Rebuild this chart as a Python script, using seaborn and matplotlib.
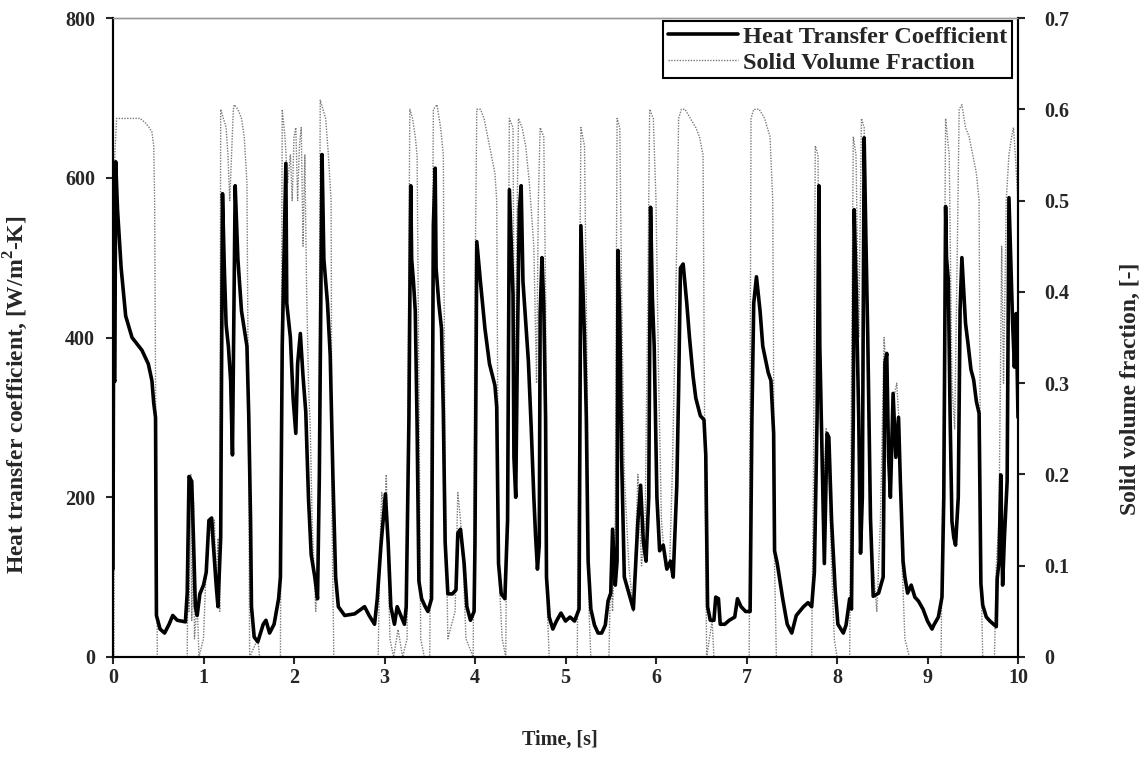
import numpy as np
import pandas as pd
import matplotlib
matplotlib.use("Agg")
import matplotlib.pyplot as plt
import seaborn as sns

# heat transfer coefficient: time [s] and value [W/m2-K]
htc_time = [0.00, 0.005, 0.02, 0.03, 0.05, 0.09, 0.14, 0.21, 0.32, 0.39, 0.43, 0.45, 0.47, 0.48,
            0.52, 0.57, 0.62, 0.66, 0.71, 0.80, 0.82, 0.84, 0.87, 0.89, 0.91, 0.93, 0.96, 1.00,
            1.03, 1.06, 1.09, 1.11, 1.14, 1.16, 1.19, 1.21, 1.23, 1.25, 1.275, 1.30, 1.32, 1.35,
            1.38, 1.42, 1.48, 1.50, 1.52, 1.53, 1.56, 1.60, 1.66, 1.69, 1.73, 1.78, 1.83, 1.85,
            1.87, 1.91, 1.92, 1.96, 1.99, 2.02, 2.04, 2.07, 2.10, 2.13, 2.16, 2.19, 2.23, 2.26,
            2.28, 2.31, 2.33, 2.37, 2.40, 2.43, 2.46, 2.49, 2.56, 2.67, 2.78, 2.83, 2.89, 2.92,
            2.96, 3.01, 3.04, 3.07, 3.11, 3.14, 3.18, 3.22, 3.24, 3.27, 3.29, 3.30, 3.32, 3.34,
            3.36, 3.38, 3.41, 3.45, 3.48, 3.52, 3.54, 3.56, 3.57, 3.60, 3.63, 3.65, 3.67, 3.70,
            3.75, 3.79, 3.81, 3.84, 3.88, 3.91, 3.95, 3.99, 4.00, 4.02, 4.06, 4.11, 4.16, 4.22,
            4.24, 4.26, 4.29, 4.33, 4.36, 4.38, 4.40, 4.42, 4.43, 4.45, 4.47, 4.49, 4.51, 4.53,
            4.56, 4.59, 4.62, 4.65, 4.67, 4.69, 4.71, 4.72, 4.74, 4.76, 4.78, 4.79, 4.82, 4.86,
            4.90, 4.95, 5.00, 5.05, 5.10, 5.15, 5.17, 5.19, 5.21, 5.23, 5.25, 5.28, 5.32, 5.36,
            5.40, 5.44, 5.47, 5.50, 5.52, 5.55, 5.57, 5.58, 5.60, 5.62, 5.65, 5.70, 5.75, 5.80,
            5.83, 5.86, 5.89, 5.92, 5.94, 5.96, 5.98, 6.01, 6.04, 6.08, 6.12, 6.16, 6.19, 6.23,
            6.25, 6.27, 6.30, 6.34, 6.37, 6.41, 6.44, 6.49, 6.53, 6.55, 6.57, 6.60, 6.64, 6.66,
            6.69, 6.71, 6.76, 6.81, 6.87, 6.90, 6.94, 6.99, 7.04, 7.06, 7.08, 7.11, 7.15, 7.18,
            7.24, 7.27, 7.30, 7.31, 7.34, 7.40, 7.45, 7.50, 7.55, 7.63, 7.68, 7.72, 7.75, 7.78,
            7.80, 7.81, 7.83, 7.86, 7.89, 7.91, 7.94, 7.98, 8.01, 8.07, 8.10, 8.14, 8.16, 8.18,
            8.19, 8.21, 8.24, 8.26, 8.28, 8.30, 8.32, 8.34, 8.37, 8.40, 8.46, 8.51, 8.53, 8.55,
            8.57, 8.59, 8.62, 8.65, 8.68, 8.70, 8.73, 8.75, 8.78, 8.82, 8.86, 8.90, 8.95, 9.00,
            9.05, 9.07, 9.12, 9.16, 9.18, 9.20, 9.21, 9.23, 9.25, 9.27, 9.29, 9.31, 9.34, 9.36,
            9.38, 9.42, 9.45, 9.48, 9.51, 9.54, 9.57, 9.59, 9.61, 9.65, 9.69, 9.74, 9.76, 9.77,
            9.79, 9.81, 9.83, 9.85, 9.88, 9.90, 9.92, 9.94, 9.96, 9.98, 10.0]
htc_value = [110, 350, 345, 620, 560, 487, 427, 400, 384, 367, 346, 318, 300, 52,
             35, 30, 41, 52, 46, 44, 80, 226, 220, 144, 63, 52, 79, 90,
             106, 171, 174, 139, 90, 63, 150, 580, 487, 416, 389, 346, 253, 590,
             498, 433, 389, 302, 171, 63, 25, 19, 41, 46, 30, 41, 73, 100,
             389, 618, 443, 400, 324, 280, 367, 405, 351, 307, 199, 128, 100, 73,
             226, 629, 498, 443, 378, 226, 100, 63, 52, 54, 63, 52, 41, 73,
             139, 204, 144, 63, 41, 63, 52, 41, 63, 300, 590, 498, 470, 433,
             291, 95, 73, 63, 57, 73, 541, 612, 487, 443, 411, 307, 144, 79,
             79, 84, 155, 160, 117, 63, 46, 57, 144, 520, 470, 411, 367, 340,
             313, 117, 79, 73, 171, 585, 520, 454, 250, 200, 400, 560, 590, 470,
             420, 370, 290, 200, 150, 110, 140, 430, 500, 440, 300, 100, 50, 35,
             45, 55, 45, 50, 45, 60, 540, 470, 400, 300, 120, 60, 40, 30,
             30, 40, 70, 80, 160, 90, 120, 509, 420, 250, 100, 80, 60, 170,
             215, 144, 120, 200, 563, 450, 389, 200, 133, 140, 110, 120, 100, 215,
             335, 487, 492, 443, 400, 351, 324, 302, 297, 253, 63, 46, 46, 75,
             73, 41, 41, 46, 50, 73, 63, 57, 57, 300, 443, 476, 433, 389,
             356, 346, 280, 133, 117, 73, 41, 30, 52, 63, 68, 63, 106, 300,
             590, 389, 280, 117, 280, 275, 171, 84, 41, 30, 40, 73, 60, 300,
             560, 470, 300, 130, 200, 650, 520, 400, 174, 76, 80, 100, 369, 380,
             250, 200, 330, 250, 300, 220, 120, 100, 80, 90, 75, 70, 60, 45,
             35, 40, 50, 75, 200, 564, 500, 472, 300, 170, 150, 140, 200, 434,
             500, 418, 390, 360, 347, 320, 305, 92, 65, 50, 45, 40, 38, 98,
             119, 228, 90, 150, 220, 575, 499, 420, 363, 430, 300]

# solid volume fraction: time [s] and value [-]
svf_time = [0.00, 0.01, 0.02, 0.04, 0.10, 0.20, 0.30, 0.36, 0.40, 0.43, 0.45, 0.46, 0.47, 0.48,
            0.49, 0.82, 0.83, 0.84, 0.86, 0.87, 0.89, 0.90, 0.93, 0.95, 1.00, 1.03, 1.05, 1.07,
            1.10, 1.12, 1.14, 1.16, 1.18, 1.19, 1.22, 1.25, 1.27, 1.29, 1.31, 1.33, 1.34, 1.38,
            1.42, 1.45, 1.48, 1.50, 1.51, 1.60, 1.62, 1.85, 1.87, 1.90, 1.93, 1.96, 1.98, 2.00,
            2.02, 2.04, 2.06, 2.08, 2.10, 2.12, 2.14, 2.16, 2.18, 2.20, 2.22, 2.24, 2.27, 2.29,
            2.32, 2.35, 2.38, 2.41, 2.42, 2.44, 2.93, 2.95, 2.97, 3.00, 3.02, 3.04, 3.06, 3.10,
            3.15, 3.20, 3.25, 3.26, 3.28, 3.31, 3.34, 3.36, 3.38, 3.40, 3.44, 3.50, 3.52, 3.54,
            3.58, 3.62, 3.65, 3.67, 3.70, 3.78, 3.81, 3.84, 3.87, 3.90, 3.98, 4.00, 4.02, 4.06,
            4.10, 4.14, 4.18, 4.22, 4.24, 4.26, 4.30, 4.34, 4.36, 4.38, 4.42, 4.44, 4.46, 4.48,
            4.52, 4.56, 4.60, 4.65, 4.68, 4.70, 4.72, 4.76, 4.78, 4.80, 4.82, 5.13, 5.15, 5.17,
            5.21, 5.24, 5.26, 5.28, 5.48, 5.50, 5.52, 5.55, 5.57, 5.60, 5.62, 5.65, 5.70, 5.75,
            5.80, 5.84, 5.88, 5.91, 5.93, 5.97, 6.00, 6.03, 6.06, 6.10, 6.15, 6.18, 6.22, 6.25,
            6.28, 6.32, 6.38, 6.44, 6.48, 6.52, 6.54, 6.56, 6.62, 6.64, 7.03, 7.05, 7.08, 7.14,
            7.20, 7.26, 7.29, 7.31, 7.33, 7.72, 7.74, 7.76, 7.79, 7.81, 7.84, 7.88, 7.91, 7.94,
            7.97, 8.00, 8.14, 8.16, 8.18, 8.21, 8.24, 8.27, 8.30, 8.33, 8.36, 8.40, 8.44, 8.48,
            8.52, 8.55, 8.58, 8.62, 8.66, 8.69, 8.72, 8.75, 8.80, 9.15, 9.18, 9.20, 9.24, 9.27,
            9.30, 9.33, 9.35, 9.38, 9.42, 9.46, 9.50, 9.54, 9.57, 9.59, 9.61, 9.74, 9.76, 9.79,
            9.82, 9.84, 9.87, 9.90, 9.93, 9.95, 9.97, 10.0]
svf_value = [0.0, 0.0, 0.55, 0.59, 0.59, 0.59, 0.59, 0.585, 0.58, 0.575, 0.56, 0.50, 0.30, 0.15,
             0.0, 0.0, 0.15, 0.05, 0.20, 0.04, 0.17, 0.02, 0.06, 0.0, 0.02, 0.10, 0.14, 0.15,
             0.12, 0.15, 0.08, 0.13, 0.05, 0.60, 0.59, 0.58, 0.55, 0.50, 0.55, 0.60, 0.605, 0.60,
             0.59, 0.57, 0.52, 0.20, 0.0, 0.02, 0.0, 0.0, 0.60, 0.57, 0.52, 0.55, 0.50, 0.57,
             0.58, 0.50, 0.56, 0.58, 0.45, 0.55, 0.40, 0.30, 0.25, 0.15, 0.10, 0.05, 0.10, 0.61,
             0.60, 0.59, 0.55, 0.50, 0.15, 0.0, 0.0, 0.12, 0.18, 0.15, 0.20, 0.10, 0.02, 0.0,
             0.03, 0.0, 0.02, 0.30, 0.60, 0.59, 0.57, 0.55, 0.30, 0.02, 0.0, 0.0, 0.30, 0.60,
             0.605, 0.58, 0.55, 0.20, 0.02, 0.05, 0.18, 0.15, 0.10, 0.02, 0.0, 0.40, 0.60, 0.60,
             0.59, 0.57, 0.55, 0.53, 0.50, 0.10, 0.02, 0.0, 0.30, 0.59, 0.58, 0.20, 0.45, 0.59,
             0.58, 0.56, 0.52, 0.45, 0.30, 0.50, 0.58, 0.57, 0.40, 0.05, 0.0, 0.0, 0.30, 0.58,
             0.56, 0.30, 0.05, 0.0, 0.0, 0.10, 0.05, 0.15, 0.59, 0.58, 0.40, 0.20, 0.10, 0.05,
             0.20, 0.10, 0.15, 0.40, 0.60, 0.59, 0.50, 0.30, 0.15, 0.10, 0.10, 0.20, 0.40, 0.59,
             0.60, 0.60, 0.59, 0.58, 0.57, 0.55, 0.20, 0.0, 0.04, 0.0, 0.0, 0.59, 0.60, 0.60,
             0.59, 0.57, 0.50, 0.10, 0.0, 0.0, 0.20, 0.56, 0.55, 0.30, 0.15, 0.25, 0.20, 0.10,
             0.02, 0.0, 0.0, 0.30, 0.57, 0.55, 0.35, 0.59, 0.58, 0.40, 0.15, 0.10, 0.05, 0.15,
             0.35, 0.30, 0.20, 0.28, 0.30, 0.25, 0.10, 0.02, 0.0, 0.0, 0.30, 0.59, 0.55, 0.30,
             0.25, 0.45, 0.60, 0.605, 0.58, 0.57, 0.55, 0.53, 0.50, 0.10, 0.0, 0.0, 0.10, 0.15,
             0.45, 0.30, 0.50, 0.55, 0.57, 0.58, 0.55, 0.50]

x_ticks = [0, 1, 2, 3, 4, 5, 6, 7, 8, 9, 10]
left_ticks = [0, 200, 400, 600, 800]
right_ticks = [0, 0.1, 0.2, 0.3, 0.4, 0.5, 0.6, 0.7]

htc = pd.DataFrame({"time": htc_time, "htc": htc_value})
svf = pd.DataFrame({"time": svf_time, "svf": svf_value})

sns.set_style("ticks")
plt.rcParams["font.family"] = ["Liberation Serif", "DejaVu Serif"]
plt.rcParams["font.weight"] = "bold"
plt.rcParams["mathtext.fontset"] = "custom"
plt.rcParams["mathtext.rm"] = "Liberation Serif:bold"
plt.rcParams["mathtext.bf"] = "Liberation Serif:bold"

fig = plt.figure(figsize=(11.46, 7.6), dpi=100)
ax = fig.add_axes([113 / 1146, 1 - 657 / 760, (1018 - 113) / 1146, (657 - 18) / 760])
ax2 = ax.twinx()

sns.lineplot(data=svf, x="time", y="svf", ax=ax2, color="#7a7a7a", lw=1.0,
             linestyle=(0, (1, 1)), estimator=None, sort=False, legend=False)
sns.lineplot(data=htc, x="time", y="htc", ax=ax, color="black", lw=2.6,
             estimator=None, sort=False, legend=False)
# black curve drawn over the grey one
ax.set_zorder(2)
ax.patch.set_visible(False)

ax.set_xlim(0, 10)
ax.set_ylim(0, 800)
ax2.set_ylim(0, 0.7)
ax.set_xticks(x_ticks)
ax.set_yticks(left_ticks)
ax2.set_yticks(right_ticks)
ax2.set_yticklabels(["0"] + [f"{v:.1f}" for v in right_ticks[1:]])

fs = 14.5
for a in (ax, ax2):
    a.tick_params(direction="out", length=5, width=1.5, labelsize=fs)
    for s in a.spines.values():
        s.set_linewidth(1.5)
        s.set_color("black")
    a.spines["top"].set_color("#999999")
    a.spines["top"].set_linestyle((0, (1, 1)))
    a.spines["top"].set_linewidth(1.0)
ax.tick_params(axis="x", pad=3)
ax.tick_params(axis="y", pad=8)
ax2.tick_params(axis="y", pad=14)
for lab in ax.get_xticklabels() + ax.get_yticklabels() + ax2.get_yticklabels():
    lab.set_fontweight("bold")

ax.set_xlabel("Time, [s]", fontsize=fs, fontweight="bold")
ax.set_ylabel("Heat transfer coefficient, [W/m$^{2}$-K]", fontsize=17, fontweight="bold")
ax2.set_ylabel("Solid volume fraction, [-]", fontsize=17, fontweight="bold")
ax.xaxis.set_label_coords(0.494, -0.113)
ax.yaxis.set_label_coords(-0.092, 0.41)
ax2.yaxis.set_label_coords(1.113, 0.42)

h1 = ax.lines[0]
h2 = ax2.lines[0]
leg = ax.legend([h1, h2], ["Heat Transfer Coefficient", "Solid Volume Fraction"],
                loc="upper right", bbox_to_anchor=(1012 / 1146, 1 - 21 / 760),
                bbox_transform=fig.transFigure, borderaxespad=0, fancybox=False,
                framealpha=1, edgecolor="black", handlelength=2.9, handletextpad=0.2,
                borderpad=0.2, labelspacing=0.15, prop={"size": 17.5, "weight": "bold"})
leg.get_frame().set_linewidth(1.5)

fig.savefig("out.png", dpi=100)
